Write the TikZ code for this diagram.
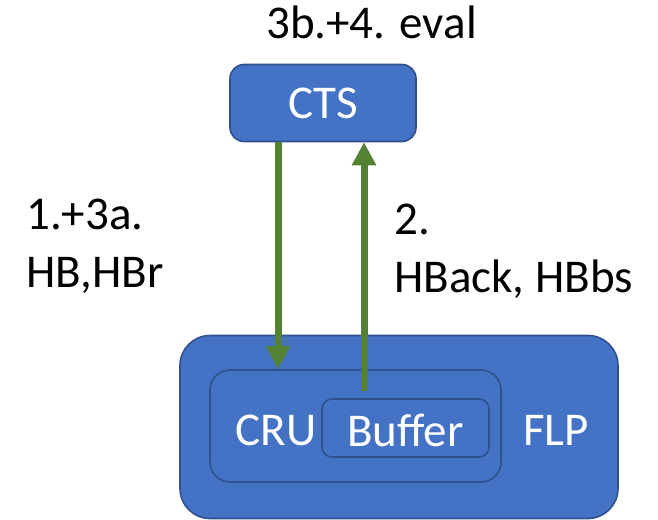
\documentclass[tikz,border=0pt]{standalone}
\usepackage{fontspec}
\setmainfont{Carlito}
\usetikzlibrary{arrows.meta}
\definecolor{boxfill}{HTML}{4472C4}
\definecolor{boxline}{HTML}{2F528F}
\definecolor{flowgreen}{HTML}{548235}
\tikzset{
  box/.style={draw=boxline, fill=boxfill, line width=1.6pt, inner sep=0pt},
  boxtext/.style={text=white, font=\fontsize{47}{56}\selectfont, inner sep=0pt},
  note/.style={text=black, font=\fontsize{47}{58}\selectfont, inner sep=0pt, anchor=base west},
  flow/.style={draw=flowgreen, line width=7pt, -{Triangle[length=23pt,width=23pt]}}
}
\begin{document}
\begin{tikzpicture}[x=1pt,y=-1pt]
  \useasboundingbox (0,0) rectangle (658,519);
  % controller and the FLP with its CRU and buffer
  \node[box, rounded corners=14pt, minimum width=186pt, minimum height=77pt] (cts) at (323,103) {};
  \node[box, rounded corners=30pt, minimum width=438pt, minimum height=183pt] (flp) at (399,427) {};
  \node[box, rounded corners=20pt, minimum width=291pt, minimum height=112pt] (cru) at (355.5,426) {};
  \node[box, rounded corners=10pt, minimum width=167pt, minimum height=58pt] (buf) at (405.5,428) {};
  % box labels
  \node[boxtext] (ctst) at (323,103) {CTS};
  \node[boxtext] (crut) at (276,430) {CRU};
  \node[boxtext] (buft) at (405.5,430) {Buffer};
  \node[boxtext] (flpt) at (556,430) {FLP};
  % message labels
  \node[note] (evalt) at (266,38) {3b.+4. eval};
  \node[note] (hbt1) at (26,229) {1.+3a.};
  \node[note] (hbt2) at (26,287) {HB,HBr};
  \node[note] (ackt1) at (394,234) {2.};
  \node[note] (ackt2) at (394,292) {HBack, HBbs};
  % heartbeat flows
  \coordinate (down) at (278,0);
  \coordinate (up) at (364,391);
  \draw[flow] (cts.south -| down) -- (cru.north -| down);
  \draw[flow] (up) -- (cts.south -| up);
\end{tikzpicture}
\end{document}
